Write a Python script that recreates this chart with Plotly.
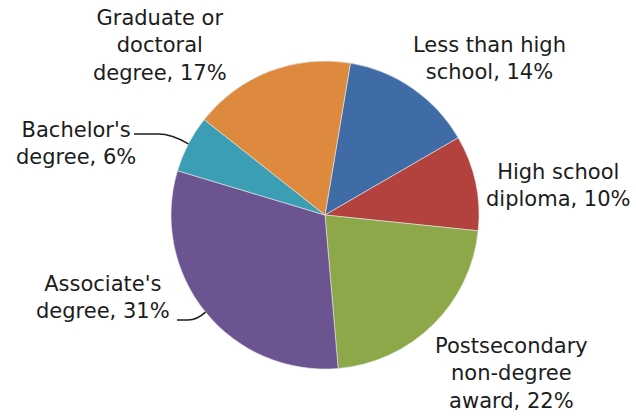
import math
import plotly.graph_objects as go

categories = ["Less than high school", "High school diploma", "Postsecondary non-degree award",
              "Associate's degree", "Bachelor's degree", "Graduate or doctoral degree"]
values = [14, 10, 22, 31, 6, 17]
label_texts = ["Less than high<br>school, 14%", "High school<br>diploma, 10%",
               "Postsecondary<br>non-degree<br>award, 22%", "Associate's<br>degree, 31%",
               "Bachelor's<br>degree, 6%", "Graduate or<br>doctoral<br>degree, 17%"]
colors = ["#3F6BA7", "#B3423E", "#8CA849", "#6C5491", "#3C9EB4", "#DD8A3F"]

W, H = 636, 417
CX, CY, R = 325, 215, 154
ROT = 9.5

def px(x):
    return x / W

def py(y):
    return 1 - y / H

fig = go.Figure(go.Pie(
    labels=categories, values=values, sort=False, direction="clockwise",
    rotation=ROT, marker=dict(colors=colors, line=dict(color="#e8e8e8", width=0.6)),
    textinfo="none", hoverinfo="label+percent", showlegend=False,
    domain=dict(x=[px(CX - R), px(CX + R)], y=[py(CY + R), py(CY - R)]),
))

# label positions (pixel centres)
label_pos = [(489, 58), (558, 185), (511, 373), (103, 297), (76, 143), (160, 46)]
font = dict(family="DejaVu Sans, Open Sans, sans-serif", size=21, color="#1c1c1c")
for t, (x, y) in zip(label_texts, label_pos):
    fig.add_annotation(x=px(x), y=py(y), xref="paper", yref="paper", text=t,
                       showarrow=False, xanchor="center", yanchor="middle",
                       align="center", font=font)

# leader lines to slice mid-angles computed from the data
total = sum(values)
def edge_point(i):
    cum = sum(values[:i]) + values[i] / 2
    ang = math.radians(ROT + 360 * cum / total)
    return CX + R * math.sin(ang), CY - R * math.cos(ang)

bx, by = edge_point(4)
ax_, ay_ = edge_point(3)
shapes = [
    dict(type="path", xref="paper", yref="paper",
         path=f"M {px(134)},{py(134)} L {px(158)},{py(134)} Q {px(172)},{py(134)} {px(bx)},{py(by)}",
         line=dict(color="#1c1c1c", width=1.5)),
    dict(type="path", xref="paper", yref="paper",
         path=f"M {px(177)},{py(320)} L {px(188)},{py(320)} Q {px(197)},{py(320)} {px(ax_)},{py(ay_)}",
         line=dict(color="#1c1c1c", width=1.5)),
]
fig.update_layout(shapes=shapes, width=W, height=H, margin=dict(l=0, r=0, t=0, b=0),
                  paper_bgcolor="white", plot_bgcolor="white")
fig.write_html("out.html", config={"displayModeBar": False},
               post_script="document.body.style.margin='0';")
